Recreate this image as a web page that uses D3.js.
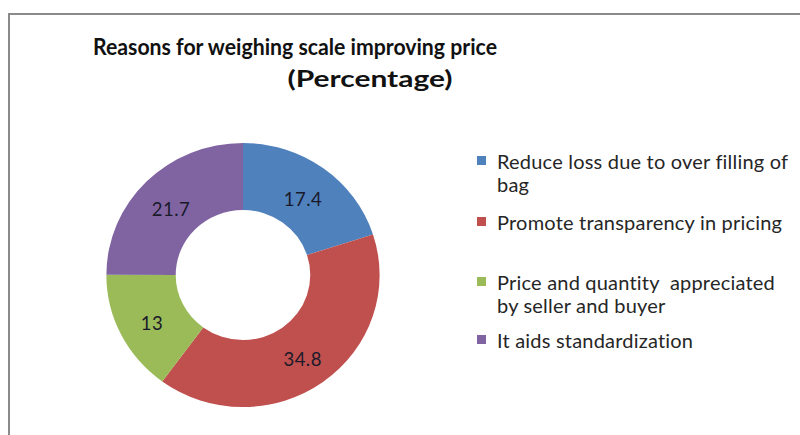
<!DOCTYPE html>
<html>
<head>
<meta charset="utf-8">
<script src="https://cdn.jsdelivr.net/npm/d3@7"></script>
<style>
  html, body { margin: 0; padding: 0; background: #fff; }
  svg { display: block; }
  text { font-family: Lato, "Open Sans", sans-serif; }
</style>
</head>
<body>
<svg id="chart" width="800" height="435"></svg>
<script>
// Reasons for weighing scale improving price (percentage)
const categories = [
  "Reduce loss due to over filling of\nbag",
  "Promote transparency in pricing",
  "Price and quantity  appreciated\nby seller and buyer",
  "It aids standardization"
];
const values = [17.4, 34.8, 13, 21.7];
const colors = ["#4F81BD", "#C0504D", "#9BBB59", "#8064A2"];
const titleLines = ["Reasons for weighing scale improving price", "(Percentage)"];

const svg = d3.select("#chart");

// outer frame
svg.append("path")
  .attr("d", "M9,435 V14 H800")
  .attr("fill", "none")
  .attr("stroke", "#8a8a8a")
  .attr("stroke-width", 2);

// title
const title = svg.append("g").attr("fill", "#111").attr("font-weight", "bold");
title.append("text")
  .attr("x", 295).attr("y", 55)
  .attr("text-anchor", "middle")
  .attr("font-size", 22.5)
  .attr("textLength", 404).attr("lengthAdjust", "spacingAndGlyphs")
  .text(titleLines[0]);
title.append("text")
  .attr("x", 370).attr("y", 87)
  .attr("text-anchor", "middle")
  .attr("font-size", 23.5)
  .attr("textLength", 165).attr("lengthAdjust", "spacingAndGlyphs")
  .text(titleLines[1]);

// donut
const cx = 243, cy = 275, outerR = 132, innerR = 65;
const pie = d3.pie().sort(null).value(d => d);
const arc = d3.arc().innerRadius(innerR).outerRadius(outerR);
const labelArc = d3.arc().innerRadius((innerR + outerR) / 2).outerRadius((innerR + outerR) / 2);

const g = svg.append("g")
  .attr("transform", `translate(${cx},${cy}) scale(1.035,1)`);

const arcs = pie(values);
g.selectAll("path.slice")
  .data(arcs)
  .join("path")
  .attr("class", "slice")
  .attr("d", arc)
  .attr("fill", (d, i) => colors[i]);

g.selectAll("text.val")
  .data(arcs)
  .join("text")
  .attr("class", "val")
  .attr("transform", d => {
    const [x, y] = labelArc.centroid(d);
    return `translate(${x},${y + 4}) scale(${1 / 1.035},1)`;
  })
  .attr("text-anchor", "middle")
  .attr("dominant-baseline", "central")
  .attr("font-size", 18.5)
  .attr("letter-spacing", 0.5)
  .attr("fill", "#1a1a2a")
  .text(d => d.data);

// legend
const legendRowsY = [161, 222, 282, 340];
const legend = svg.append("g");
categories.forEach((c, i) => {
  const row = legend.append("g").attr("transform", `translate(477,${legendRowsY[i]})`);
  row.append("rect")
    .attr("x", 0).attr("y", -5)
    .attr("width", 9).attr("height", 9)
    .attr("fill", colors[i]);
  c.split("\n").forEach((line, j) => {
    row.append("text")
      .attr("x", 20).attr("y", j * 23)
      .attr("dominant-baseline", "central")
      .attr("font-size", 20)
      .attr("letter-spacing", 0.2)
      .attr("fill", "#262626")
      .style("white-space", "pre")
      .text(line);
  });
});
</script>
</body>
</html>
